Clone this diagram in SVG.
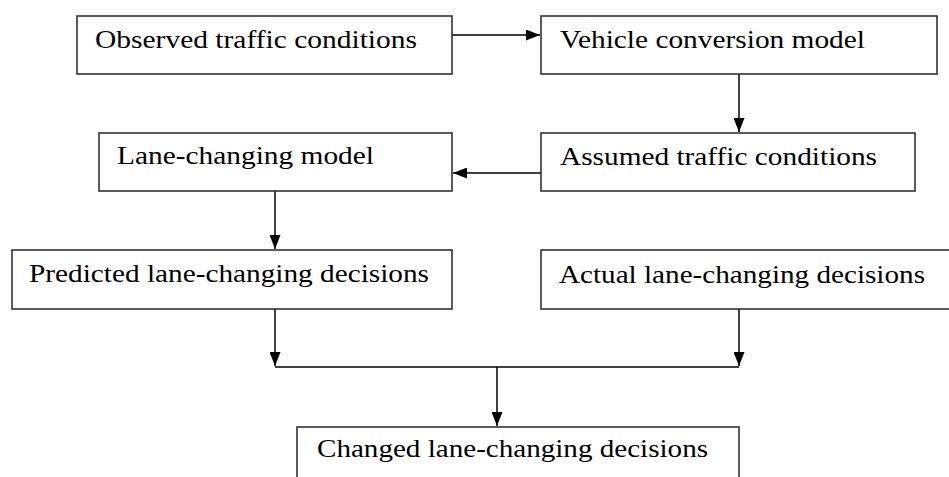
<svg xmlns="http://www.w3.org/2000/svg" width="949" height="477" viewBox="0 0 949 477">
<style>
.box{fill:#fff;stroke:#333;stroke-width:1.6}
.t{font-family:"Liberation Serif","Times New Roman",serif;font-size:25px;fill:#000}
.c{fill:none;stroke:#000;stroke-width:1.5}
</style>
<defs>
<marker id="ah" viewBox="0 0 14 11" refX="14" refY="5.5" markerWidth="14" markerHeight="11" markerUnits="userSpaceOnUse" orient="auto">
<path d="M0,0 L14,5.5 L0,11 Z" fill="#000"/>
</marker>
</defs>
<rect width="949" height="477" fill="#fff"/>
<g id="connectors">
<line class="c" x1="452" y1="35" x2="540" y2="35" marker-end="url(#ah)"/>
<line class="c" x1="739" y1="74" x2="739" y2="132" marker-end="url(#ah)"/>
<line class="c" x1="541" y1="173" x2="453" y2="173" marker-end="url(#ah)"/>
<line class="c" x1="275" y1="191" x2="275" y2="249" marker-end="url(#ah)"/>
<line class="c" x1="275" y1="309" x2="275" y2="366" marker-end="url(#ah)"/>
<line class="c" x1="739" y1="309" x2="739" y2="366" marker-end="url(#ah)"/>
<line class="c" x1="275" y1="367" x2="739" y2="367"/>
<line class="c" x1="497" y1="367" x2="497" y2="426" marker-end="url(#ah)"/>
</g>
<g id="observed">
<rect class="box" x="77" y="16" width="375" height="58"/>
<text class="t" x="95" y="48" textLength="322" lengthAdjust="spacingAndGlyphs">Observed traffic conditions</text>
</g>
<g id="vehicle">
<rect class="box" x="541" y="16" width="396" height="58"/>
<text class="t" x="560" y="48" textLength="305" lengthAdjust="spacingAndGlyphs">Vehicle conversion model</text>
</g>
<g id="assumed">
<rect class="box" x="541" y="133" width="374" height="58"/>
<text class="t" x="560" y="165" textLength="317" lengthAdjust="spacingAndGlyphs">Assumed traffic conditions</text>
</g>
<g id="lane">
<rect class="box" x="99" y="133" width="353" height="58"/>
<text class="t" x="117" y="164" textLength="257" lengthAdjust="spacingAndGlyphs">Lane-changing model</text>
</g>
<g id="predicted">
<rect class="box" x="12" y="250" width="440" height="59"/>
<text class="t" x="29" y="282" textLength="400" lengthAdjust="spacingAndGlyphs">Predicted lane-changing decisions</text>
</g>
<g id="actual">
<rect class="box" x="541" y="250" width="420" height="59"/>
<text class="t" x="559" y="283" textLength="366" lengthAdjust="spacingAndGlyphs">Actual lane-changing decisions</text>
</g>
<g id="changed">
<rect class="box" x="297" y="427" width="442" height="70"/>
<text class="t" x="317" y="457" textLength="391" lengthAdjust="spacingAndGlyphs">Changed lane-changing decisions</text>
</g>
</svg>
